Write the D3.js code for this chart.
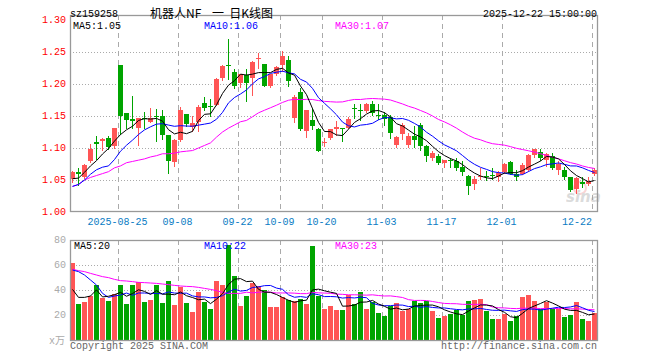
<!DOCTYPE html>
<html><head><meta charset="utf-8">
<script src="https://cdn.jsdelivr.net/npm/d3@7"></script>
<style>body{margin:0;background:#fff}svg{display:block}</style>
</head><body>
<svg id="chart" width="660" height="360"></svg>
<script>
// ---------------- data ----------------
const symbol = "sz159258";
const titleParts = ["机器人NF ", "一 ", "日K线图"];
const stamp = "2025-12-22 15:00:00";

const dates = [
"2025-08-13","2025-08-14","2025-08-15","2025-08-18","2025-08-19","2025-08-20","2025-08-21","2025-08-22","2025-08-25","2025-08-26","2025-08-27","2025-08-28","2025-08-29",
"2025-09-01","2025-09-02","2025-09-03","2025-09-04","2025-09-05","2025-09-08","2025-09-09","2025-09-10","2025-09-11","2025-09-12","2025-09-15","2025-09-16","2025-09-17","2025-09-18","2025-09-19","2025-09-22","2025-09-23","2025-09-24","2025-09-25","2025-09-26","2025-09-29","2025-09-30",
"2025-10-09","2025-10-10","2025-10-13","2025-10-14","2025-10-15","2025-10-16","2025-10-17","2025-10-20","2025-10-21","2025-10-22","2025-10-23","2025-10-24","2025-10-27","2025-10-28","2025-10-29","2025-10-30","2025-10-31",
"2025-11-03","2025-11-04","2025-11-05","2025-11-06","2025-11-07","2025-11-10","2025-11-11","2025-11-12","2025-11-13","2025-11-14","2025-11-17","2025-11-18","2025-11-19","2025-11-20","2025-11-21","2025-11-24","2025-11-25","2025-11-26","2025-11-27","2025-11-28",
"2025-12-01","2025-12-02","2025-12-03","2025-12-04","2025-12-05","2025-12-08","2025-12-09","2025-12-10","2025-12-11","2025-12-12","2025-12-15","2025-12-16","2025-12-17","2025-12-18","2025-12-19","2025-12-22"];

const open = [1.051,1.062,1.054,1.079,1.110,1.111,1.116,1.103,1.230,1.154,1.146,1.132,1.147,1.140,1.150,1.150,1.120,1.078,1.112,1.153,1.133,1.141,1.170,1.165,1.167,1.209,1.230,1.219,1.202,1.214,1.210,1.239,1.231,1.197,1.216,1.229,1.238,1.147,1.188,1.126,1.143,1.130,1.108,1.115,1.129,1.131,1.132,1.163,1.159,1.158,1.168,1.151,1.151,1.149,1.104,1.122,1.104,1.118,1.136,1.103,1.085,1.088,1.077,1.082,1.079,1.070,1.056,1.044,1.055,1.056,1.058,1.055,1.062,1.078,1.060,1.060,1.066,1.089,1.094,1.081,1.087,1.066,1.065,1.054,1.036,1.047,1.044,1.059];
const high = [1.064,1.069,1.075,1.107,1.119,1.115,1.119,1.132,1.230,1.154,1.182,1.147,1.157,1.163,1.161,1.160,1.121,1.114,1.164,1.153,1.150,1.167,1.180,1.176,1.210,1.229,1.270,1.224,1.216,1.223,1.236,1.249,1.232,1.215,1.228,1.251,1.243,1.183,1.194,1.160,1.162,1.131,1.115,1.130,1.142,1.132,1.149,1.168,1.168,1.170,1.174,1.168,1.157,1.152,1.118,1.139,1.123,1.135,1.139,1.104,1.096,1.090,1.082,1.084,1.084,1.079,1.058,1.057,1.069,1.064,1.069,1.064,1.076,1.079,1.065,1.077,1.090,1.099,1.098,1.092,1.092,1.079,1.071,1.055,1.055,1.055,1.054,1.068];
const low = [1.046,1.040,1.051,1.077,1.081,1.095,1.097,1.099,1.120,1.130,1.129,1.103,1.129,1.139,1.109,1.113,1.060,1.070,1.109,1.133,1.125,1.125,1.158,1.149,1.165,1.205,1.207,1.192,1.194,1.172,1.181,1.224,1.196,1.193,1.212,1.219,1.196,1.139,1.126,1.115,1.128,1.093,1.101,1.112,1.118,1.109,1.130,1.146,1.142,1.154,1.150,1.144,1.134,1.114,1.100,1.113,1.100,1.100,1.095,1.078,1.079,1.074,1.069,1.069,1.064,1.056,1.027,1.035,1.050,1.048,1.050,1.047,1.060,1.058,1.049,1.058,1.063,1.084,1.080,1.071,1.066,1.058,1.050,1.032,1.028,1.037,1.041,1.056];
const close = [1.062,1.059,1.074,1.099,1.107,1.114,1.102,1.132,1.150,1.144,1.142,1.147,1.146,1.147,1.149,1.121,1.080,1.113,1.160,1.138,1.139,1.164,1.162,1.164,1.208,1.228,1.229,1.197,1.215,1.201,1.235,1.241,1.197,1.215,1.226,1.244,1.204,1.180,1.130,1.159,1.135,1.096,1.109,1.129,1.133,1.130,1.146,1.162,1.158,1.169,1.154,1.150,1.145,1.124,1.117,1.136,1.118,1.113,1.103,1.087,1.092,1.077,1.082,1.079,1.069,1.063,1.041,1.052,1.056,1.055,1.057,1.061,1.075,1.060,1.054,1.073,1.089,1.098,1.084,1.090,1.068,1.075,1.054,1.035,1.053,1.044,1.049,1.065];
const volume = [61.9,28.8,30.4,35.2,44.3,33.6,31.5,36.8,44.3,28.8,44.3,46.7,30.4,32,44.3,29.6,47.2,28,42.7,29.6,22.4,38.4,30.4,24.8,47.2,44,76,51.2,27.2,35.2,45.9,43.2,40,26.4,26.4,34.1,32,31.5,32.8,28.8,75.2,35.2,24.8,27.2,24,24,36,28.5,38.7,24.8,30.4,21.6,19.2,27.2,29.6,23.2,24.5,31.2,29.6,31.2,23.2,17.6,19.2,20.8,24,20,31.5,32,32.8,23.2,16.8,16.8,21.1,15.2,19.2,34.4,36,31.5,25,30.4,24.8,24.8,18.4,20,30.4,16.8,15.2,21.6];

// moving-average values for days whose window starts before the visible range
const priceMa5Early = [1.052,1.053,1.062,1.072];
const priceMa10Early = [1.040,1.043,1.050,1.059,1.066,1.070,1.072,1.082,1.095];
const priceMa30Early = [1.040,1.043,1.050,1.054,1.057,1.060,1.063,1.069,1.072,1.077,1.079,1.081,1.083,1.086,1.088,1.091,1.091,1.092,1.094,1.095,1.096,1.100,1.104,1.108,1.117,1.125,1.131,1.136,1.141];
const volMa5Early = [40.5,34.1,34.1,35.2];
const volMa10Early = [56,54.7,52,48,44,37.3,34.1,35.2,36];
const volMa30Early = [56.5,55.5,54.7,53.3,52,50.7,49.9,48.5,47.5,47.2,46.7,46.1,45.9,45.6,45.3,44.8,44.3,43.7,43.2,42.9,42.7,42.1,41.3,40.5,39.5,38.1,37.3,37.3,37.3];
const volLegend = [20,22,23];

const priceTicks = [1.00,1.05,1.10,1.15,1.20,1.25,1.30];
const priceGrid = [1.05,1.10,1.15,1.20,1.25];
const volTicks = [20,40,60,80];
const volGrid = [20,40,60];
const tickDates = ["2025-08-25","2025-09-08","2025-09-22","2025-10-09","2025-10-20","2025-11-03","2025-11-17","2025-12-01","2025-12-22"];
const tickLabels = ["2025-08-25","09-08","09-22","10-09","10-20","11-03","11-17","12-01","12-22"];

// ---------------- drawing ----------------
const svg = d3.select("#chart");
const MONO = "'Liberation Mono','DejaVu Sans Mono',monospace";
const RED = "#ff5555", GREEN = "#00a400";
const L = 70, R = 597;
const x = d3.scaleBand().domain(dates).range([L, L + 6 * dates.length]).padding(0);
const y = d3.scaleLinear().domain([1.00, 1.30]).range([212, 20]);
const yv = d3.scaleLinear().domain([0, 80]).range([340, 240]);

function movingAvg(vals, n, early) {
  return vals.map((v, i) => i < n - 1 ? early[i] : d3.mean(vals.slice(i - n + 1, i + 1)));
}
const pMa5 = movingAvg(close, 5, priceMa5Early);
const pMa10 = movingAvg(close, 10, priceMa10Early);
const pMa30 = movingAvg(close, 30, priceMa30Early);
const vMa5 = movingAvg(volume, 5, volMa5Early);
const vMa10 = movingAvg(volume, 10, volMa10Early);
const vMa30 = movingAvg(volume, 30, volMa30Early);

// grid: horizontal dotted
const grid = svg.append("g").attr("stroke", "#aaa").attr("stroke-width", 1).attr("shape-rendering", "crispEdges");
priceGrid.forEach(t => grid.append("line").attr("x1", L).attr("x2", R)
  .attr("y1", Math.round(y(t)) + 0.5).attr("y2", Math.round(y(t)) + 0.5).attr("stroke-dasharray", "1,2"));
volGrid.forEach(t => grid.append("line").attr("x1", L).attr("x2", R)
  .attr("y1", Math.round(yv(t)) + 0.5).attr("y2", Math.round(yv(t)) + 0.5).attr("stroke-dasharray", "1,2"));
// vertical dashed
tickDates.forEach(d => {
  const xx = x(d) + 0.5;
  grid.append("line").attr("x1", xx).attr("x2", xx).attr("y1", 15).attr("y2", 211).attr("stroke-dasharray", "5,4");
  grid.append("line").attr("x1", xx).attr("x2", xx).attr("y1", 240).attr("y2", 340).attr("stroke-dasharray", "5,4");
});

// watermark
const wm = svg.append("g").attr("opacity", 0.35);
wm.append("circle").attr("cx", 580).attr("cy", 188).attr("r", 6).attr("fill", "none").attr("stroke", "#e88").attr("stroke-width", 2);
wm.append("text").attr("x", 566).attr("y", 202).attr("font-family", "'DejaVu Sans',sans-serif")
  .attr("font-size", 15).attr("font-weight", "bold").attr("font-style", "italic").attr("fill", "#999").text("sina");

// candles
const cg = svg.append("g").attr("shape-rendering", "crispEdges");
dates.forEach((d, i) => {
  const up = close[i] >= open[i];
  const col = up ? RED : GREEN;
  const x0 = x(d);
  const yh = Math.round(y(high[i])), yl = Math.round(y(low[i]));
  cg.append("rect").attr("x", x0 + 2).attr("width", 1).attr("y", yh).attr("height", Math.max(1, yl - yh)).attr("fill", col);
  const yt = Math.round(y(Math.max(open[i], close[i]))), yb = Math.round(y(Math.min(open[i], close[i])));
  cg.append("rect").attr("x", x0).attr("width", 5).attr("y", yt).attr("height", Math.max(1, yb - yt)).attr("fill", col);
  const vt = Math.round(yv(volume[i]));
  cg.append("rect").attr("x", x0).attr("width", 5).attr("y", vt).attr("height", 340 - vt).attr("fill", col);
});

// MA lines
const cx = i => x(dates[i]) + 2.5;
const lineP = d3.line().x((d, i) => cx(i)).y(d => y(d));
const lineV = d3.line().x((d, i) => cx(i)).y(d => yv(d));
[[pMa30, "#ff00ff"], [pMa10, "#0000ff"], [pMa5, "#000"]].forEach(([a, c]) =>
  svg.append("path").attr("d", lineP(a)).attr("fill", "none").attr("stroke", c).attr("stroke-width", 1));
[[vMa30, "#ff00ff"], [vMa10, "#0000ff"], [vMa5, "#000"]].forEach(([a, c]) =>
  svg.append("path").attr("d", lineV(a)).attr("fill", "none").attr("stroke", c).attr("stroke-width", 1));

// frames
svg.append("rect").attr("x", L + 0.5).attr("y", 15.5).attr("width", R - L).attr("height", 196)
  .attr("fill", "none").attr("stroke", "#999").attr("stroke-width", 1.3);
svg.append("rect").attr("x", L + 0.5).attr("y", 240.5).attr("width", R - L).attr("height", 100)
  .attr("fill", "none").attr("stroke", "#999").attr("stroke-width", 1.3);

// texts
const T = (xx, yy, s, opts = {}) => svg.append("text").attr("x", xx).attr("y", yy)
  .attr("font-family", opts.family || MONO).attr("font-size", opts.size || 10)
  .attr("fill", opts.fill || "#000").attr("text-anchor", opts.anchor || "start")
  .attr("dominant-baseline", opts.base || "auto").text(s);

T(70, 17, symbol);
const tt = svg.append("text").attr("x", 150).attr("y", 18)
  .attr("font-family", "'Noto Sans CJK SC',sans-serif").attr("font-size", 12).attr("fill", "#000")
  .style("white-space", "pre");
const gaps = [0, 8, 2.5];
titleParts.forEach((p, k) => tt.append("tspan").attr("dx", gaps[k]).text(p));
T(597, 17, stamp, { anchor: "end" });

T(73, 29, "MA5:" + d3.format(".2f")(pMa5[pMa5.length - 1]));
T(204, 29, "MA10:" + d3.format(".2f")(pMa10[pMa10.length - 1]), { fill: "#0000ff" });
T(335, 29, "MA30:" + d3.format(".2f")(pMa30[pMa30.length - 1]), { fill: "#ff00ff" });

priceTicks.forEach(t => T(66, y(t), d3.format(".2f")(t), { anchor: "end", base: "central", fill: "#ff0000" }));

tickDates.forEach((d, k) => {
  const last = k === tickDates.length - 1;
  T(last ? x(d) : x(d) - 0.5, 225, tickLabels[k], { anchor: last ? "end" : "middle", fill: "#0a7cc4" });
});

volTicks.forEach(t => T(66, yv(t), String(t), { anchor: "end", base: "central", fill: "#aaa" }));
T(49, 344, "x万", { fill: "#aaa", family: "'Liberation Mono','Noto Sans CJK SC',monospace" });

T(74, 249, "MA5:" + volLegend[0]);
T(204, 249, "MA10:" + volLegend[1], { fill: "#0000ff" });
T(335, 249, "MA30:" + volLegend[2], { fill: "#ff00ff" });

T(70, 349, "Copyright 2025 SINA.COM", { fill: "#666" });
T(597, 349, "http://finance.sina.com.cn", { anchor: "end", fill: "#666" });
</script>
</body></html>
